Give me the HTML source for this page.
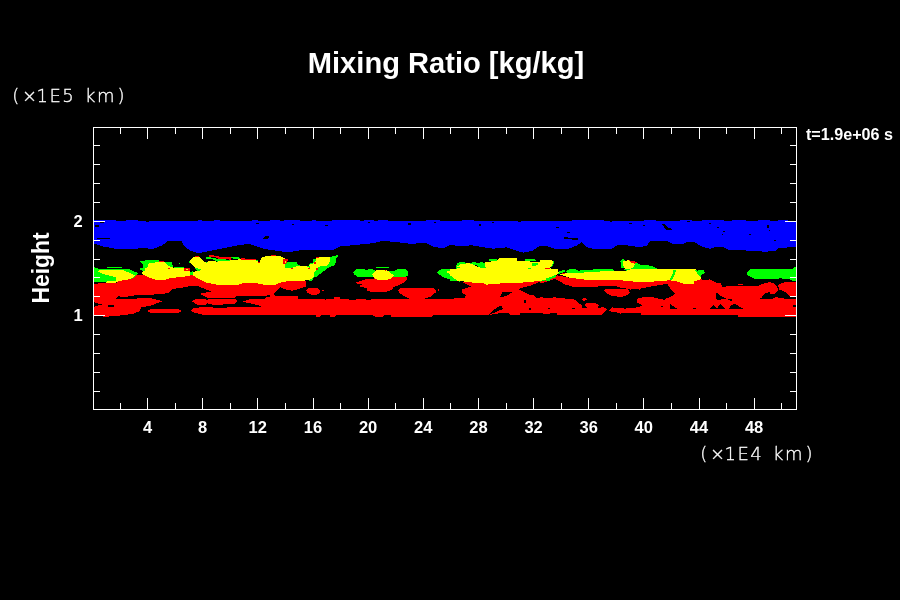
<!DOCTYPE html>
<html lang="en">
<head>
<meta charset="utf-8">
<title>Mixing Ratio [kg/kg]</title>
<style>
html,body{margin:0;padding:0;background:#000;width:900px;height:600px;overflow:hidden}
svg{display:block}
text{fill:#fff;font-family:"Liberation Sans",sans-serif;font-weight:bold}
.thin{font-family:"DejaVu Sans","Liberation Sans",sans-serif;font-weight:200}
</style>
</head>
<body>
<svg width="900" height="600" viewBox="0 0 900 600">
<rect x="0" y="0" width="900" height="600" fill="#000"/>
<g shape-rendering="crispEdges">
<polygon fill="#0000ff" points="94,243.7 103.3,246.5 115,248.7 131.7,249.5 140,248.2 153.3,248.7 161.7,245.7 168.3,240.7 181.7,241.5 184.2,245.7 190,250.7 198.3,253.2 210,251 223.3,248.2 240,244.8 250,244 256.7,246.5 265,249 281.7,251.5 290,252 303,249.8 323,249.5 333,249.8 340,246.5 356.7,244.8 373,243.2 381.7,241.2 390,241.5 398,242.3 410,243.7 426.7,243.2 433.3,246.5 443.3,248.5 450,244.8 461.7,246.5 471.7,245.2 483.3,247.3 493.3,248.7 506.7,247.3 516.7,250.7 523.3,252.7 531.7,251 540,246 548,246.5 556.7,249.3 566.7,249.3 576.7,245.7 581.7,242.3 586.7,247.3 593.3,248.7 611.7,248.7 618.3,244.8 630,245.7 640,247.3 646.7,245.7 650,241.5 666.7,240.7 673.3,244.3 681.7,244.3 688.3,241.5 695,242.3 701.7,246.5 710,248.7 715,247 723.3,247.3 730,250.3 760,250.7 763.3,251.8 775,251 778.3,248.2 793.3,247 796,247 796,221 788,221 788,220 778,220 778,221 774,221 774,221 770,221 770,220 758,220 758,221 746,221 746,220 742,220 742,220 732,220 732,221 728,221 728,221 724,221 724,220 714,220 714,220 702,220 702,221 696,221 696,221 692,221 692,220 680,220 680,221 676,221 676,221 672,221 672,221 666,221 666,221 656,221 656,220 644,220 644,221 632,221 632,221 620,221 620,221 616,221 616,221 604,221 604,220 596,220 596,220 584,220 584,220 572,220 572,221 560,221 560,221 550,221 550,221 540,221 540,221 530,221 530,221 520,221 520,221 512,221 512,221 506,221 506,221 502,221 502,221 494,221 494,221 484,221 484,221 474,221 474,220 462,220 462,221 458,221 458,221 448,221 448,221 440,221 440,220 430,220 430,220 426,220 426,221 414,221 414,221 406,221 406,221 398,221 398,221 388,221 388,220 378,220 378,221 374,221 374,220 364,220 364,221 360,221 360,220 348,220 348,220 340,220 340,220 332,220 332,221 322,221 322,221 316,221 316,220 312,220 312,221 308,221 308,221 300,221 300,220 294,220 294,220 284,220 284,221 280,221 280,220 270,220 270,221 258,221 258,220 252,220 252,221 240,221 240,221 230,221 230,221 220,221 220,220 214,220 214,221 208,221 208,221 202,221 202,220 198,220 198,221 186,221 186,221 178,221 178,221 174,221 174,221 164,221 164,221 156,221 156,221 144,221 144,221 138,221 138,220 126,220 126,221 116,221 116,220 106,220 106,220 96,220 96,220 94,220"/>
<polygon fill="#000000" points="97,237.7 110,237.7 110,238.7 97,238.7"/>
<polygon fill="#000000" points="263,238.7 266,236 270,235.7 268,238.7"/>
<polygon fill="#000000" points="564,237.3 577.5,238 577.5,239.8 564,239"/>
<polygon fill="#000000" points="661.7,224 664,224 668,228 671.7,228.6 671.7,229.8 666,229.5"/>
<polygon fill="#000000" points="95,225 99,225 99,227 95,227"/>
<polygon fill="#000000" points="100,222 104,222 104,223 100,223"/>
<polygon fill="#000000" points="256,223 259,223 259,224 256,224"/>
<polygon fill="#000000" points="292,224 294,224 294,225 292,225"/>
<polygon fill="#000000" points="325,225 328,225 328,226 325,226"/>
<polygon fill="#000000" points="368,222 370,222 370,223 368,223"/>
<polygon fill="#000000" points="408,223 411,223 411,225 408,225"/>
<polygon fill="#000000" points="434,222 436,222 436,223 434,223"/>
<polygon fill="#000000" points="479,224 481,224 481,226 479,226"/>
<polygon fill="#000000" points="492,222 494,222 494,223 492,223"/>
<polygon fill="#000000" points="556,227 559,227 559,228 556,228"/>
<polygon fill="#000000" points="567,232 570,232 570,233 567,233"/>
<polygon fill="#000000" points="629,223 632,223 632,224 629,224"/>
<polygon fill="#000000" points="643,225 645,225 645,226 643,226"/>
<polygon fill="#000000" points="709,223 711,223 711,224 709,224"/>
<polygon fill="#000000" points="717,227 719,227 719,228 717,228"/>
<polygon fill="#000000" points="723,231 725,231 725,232 723,232"/>
<polygon fill="#000000" points="722,234 723,234 723,235 722,235"/>
<polygon fill="#000000" points="749,234 751,234 751,235 749,235"/>
<polygon fill="#000000" points="767,225 769,225 769,228 767,228"/>
<polygon fill="#000000" points="769,230 770,230 770,231 769,231"/>
<polygon fill="#000000" points="774,240 776,240 776,241 774,241"/>
<polygon fill="#000000" points="687,221 690,221 690,222 687,222"/>
<polygon fill="#000000" points="610,221 612,221 612,222 610,222"/>
<polygon fill="#000000" points="518,221 521,221 521,222 518,222"/>
<polygon fill="#000000" points="146,221 149,221 149,222 146,222"/>
<polygon fill="#ff0000" points="93.85,282.92 116.25,282.92 118,281.17 128.51,279.42 133.17,278.25 136.67,275.1 144.84,274.87 150.68,278.25 156.51,279.77 164.68,279.77 171.68,277.9 183.35,276.74 190,275.92 190,285.84 185.68,287.01 179.85,288.17 172.85,288.76 169.35,292.26 164.68,293.77 153.01,294.59 136.67,295.17 125.01,296.92 118,296.34 115.67,298.67 146.01,298.44 148.34,297.86 155.34,299.26 162.93,301.24 156.51,303.34 150.68,305.68 141.34,307.43 139.01,311.51 133.17,313.84 114.5,316.18 105.17,316.76 93.85,315.59"/>
<polygon fill="#000000" points="93.85,282.57 98.17,282.57 98.17,283.74 93.85,283.74"/>
<polygon fill="#000000" points="93.85,302.18 101.67,304.51 93.85,306.84"/>
<polygon fill="#000000" points="108.09,305.09 113.92,305.09 113.92,306.61 108.09,306.61"/>
<polygon fill="#ff0000" points="147.18,310.93 150.68,309.18 178.68,309.18 181.02,310.93 178.68,312.68 150.68,312.91"/>
<polygon fill="#ff0000" points="180,275.92 190.5,274.75 192.84,274.75 197.5,278.25 205.67,282.57 217.34,284.67 238.34,284.67 243.01,283.27 254.68,282.92 264.01,284.67 275.68,284.67 280,282.57 280,287.01 274.52,293.42 273.35,295.41 266.93,295.41 266.93,296.34 236.01,296.11 234.26,298.09 223.17,298.09 223.17,297.74 206.84,297.51 199.25,293.77 210.92,291.44 203.34,288.17 197.5,286.07 187,286.07 180,287.59"/>
<polygon fill="#ff0000" points="192.25,301.59 195.17,298.91 203.34,298.67 207.42,300.07 209.17,298.91 236.01,298.91 237.76,301.01 234.84,303.93 224.34,303.93 223.17,304.74 212.67,304.74 210.34,303.93 207.42,303.34 205.67,304.74 197.5,304.74"/>
<polygon fill="#ff0000" points="242.43,301.59 250.01,299.26 265.18,298.67 266.93,296.92 280,296.92 280,315.01 203.34,314.78 194,312.68 191.09,310.93 194,307.78 210.34,306.84 213.84,307.78 260.51,306.84 260.51,305.91 250.01,303.34"/>
<polygon fill="#ff0000" points="180,309.76 181.17,309.76 181.17,312.09 180,312.09"/>
<polygon fill="#ff0000" points="270,284.91 277,283.51 287.5,281.17 305.01,280.35 305.59,280.59 305.59,286.77 299.17,288.76 292.17,290.74 285.17,289.34 279.33,287.01 275.83,289.92 273.5,294.01 275.83,296.11 270,296.11"/>
<polygon fill="#ff0000" points="270,296.11 298,296.11 298,298.67 324.26,298.67 325.43,300.42 327.18,298.67 334.18,298.67 334.18,297.27 340.01,297.27 340.01,298.67 349.35,298.67 349.35,300.42 370,300.42 370,315.01 336.51,315.01 335.34,316.76 330.68,316.76 329.51,315.01 321.34,315.01 320.18,316.76 316.67,316.76 315.51,315.01 270,315.01"/>
<polygon fill="#ff0000" points="356.35,299.02 365.68,299.02 365.68,299.84 356.35,299.84"/>
<polygon fill="#ff0000" points="306.17,290.51 308.51,288.17 317.84,287.94 320.18,290.51 319.59,293.42 316.67,294.94 310.84,294.59 307.34,292.84"/>
<polygon fill="#ff0000" points="321.93,289.92 323.91,289.92 323.91,290.86 321.93,290.86"/>
<polygon fill="#ff0000" points="356.35,282.57 359.85,281.17 366.85,279.07 370,279.07 370,291.09 366.85,291.09 366.85,288.17 359.85,286.42 362.18,284.67 357.51,283.51"/>
<polygon fill="#ff0000" points="360,281.17 363.5,281.17 364.67,279.42 372.84,278.6 393.84,276.74 406.67,276.74 407.26,278.84 404.34,282.34 398.51,285.26 393.84,287.01 391.51,289.92 386.84,291.67 370.5,291.67 367,289.92 367,287.59 360,287.01 360,284.67 363.5,284.67 363.5,282.57 360,282.57"/>
<polygon fill="#ff0000" points="397.92,290.51 400.84,288.17 410.18,288.41 413.09,287.94 433.51,288.17 436.43,291.09 435.85,292.26 431.18,296.34 424.18,298.67 409.01,298.67 403.17,295.76 399.67,292.84"/>
<polygon fill="#ff0000" points="437.95,288.76 439.11,288.76 439.11,291.09 437.95,291.09"/>
<polygon fill="#ff0000" points="360,299.02 365.83,299.02 365.83,299.84 370.5,300.42 370.5,299.26 456.85,299.26 456.85,298.09 460,298.09 460,315.01 433.51,315.01 432.35,316.76 391.51,316.76 390.34,315.01 384.5,315.01 383.34,316.76 375.17,316.76 372.84,315.01 360,315.01"/>
<polygon fill="#ff0000" points="450,299.26 455.83,298.09 465.17,298.09 465.75,295.17 462.25,292.84 462.25,289.34 471.59,286.42 461.67,282.11 469.84,282.11 485.01,282.92 504.84,282.57 522.35,282.34 531.68,281.4 542.18,280.82 531.68,285.26 522.35,287.59 517.68,289.11 524.68,292.26 530.51,295.41 534.01,295.17 536.35,297.74 550,297.74 550,313.84 543.35,313.84 543.35,313.26 520.01,313.26 520.01,315.01 510.68,315.01 508.34,313.26 499.01,313.26 488.51,315.01 450,315.01"/>
<polygon fill="#000000" points="501.93,291.09 503.09,292.26 511.84,292.26 508.34,295.17 504.84,296.34 499.01,297.51 501.34,294.59"/>
<polygon fill="#000000" points="501.93,305.91 503.09,309.18 499.01,310.34 494.34,312.68 490.26,314.43 489.09,315.24 487.92,315.24 493.17,310.34 496.67,308.01 500.18,305.91"/>
<polygon fill="#000000" points="524.1,299.26 525.85,300.42 525.85,303.34 524.1,302.76"/>
<polygon fill="#000000" points="529.35,308.01 531.1,308.01 531.1,310.34 529.35,310.34"/>
<polygon fill="#ff0000" points="540,281.17 542.33,281.17 547,279.42 554.59,277.09 557.5,275.34 570.34,277.9 586.67,279.77 612.35,279.77 621.68,280.35 633.35,281.52 640,282.57 640,289.57 621.68,288.17 614.68,285.84 600.68,285.84 596.01,287.01 575.01,287.24 565.67,284.67 554.59,278.84 542.33,282.92 540,282.92"/>
<polygon fill="#ff0000" points="604.18,290.51 605.93,289.11 627.51,289.34 630.08,292.26 626.93,295.17 621.68,296.92 612.35,296.11 607.09,293.42"/>
<polygon fill="#ff0000" points="636.85,298.67 640,298.09 640,303.93 637.43,302.76 636.62,300.42"/>
<polygon fill="#ff0000" points="540,297.27 551.67,298.09 554,297.27 558.67,297.74 566.84,298.67 570.34,298.67 575.01,299.84 578.51,302.76 582.01,305.68 582.01,307.78 587.84,308.01 584.11,305.09 586.67,303.11 596.01,303.11 598.93,305.68 597.18,308.59 603.01,307.08 607.09,309.18 604.18,312.68 601.84,315.01 557.5,315.01 556.34,312.91 540,312.91"/>
<polygon fill="#000000" points="572.09,308.01 575.01,308.01 575.01,309.18 572.09,309.18"/>
<polygon fill="#000000" points="548.17,308.01 549.92,308.01 549.92,309.18 548.17,309.18"/>
<polygon fill="#ff0000" points="582.01,299.26 583.76,298.09 586.09,298.44 586.91,299.61 584.92,300.77 582.59,300.42"/>
<polygon fill="#ff0000" points="608.26,311.51 612.35,307.43 625.18,308.59 633.35,308.01 640,306.84 640,313.26 621.68,313.26 620.51,313.84 619.35,312.68 612.35,312.09 610.01,310.93"/>
<polygon fill="#ff0000" points="630,281.17 637,282.11 653.34,281.52 669.67,280.35 676.67,281.52 686.01,284.44 693.59,284.44 694.18,281.17 700.01,280 701.18,278.25 702.93,280.59 709.35,279.42 716.35,282.92 721.02,283.27 722.18,287.01 730,285.84 730,315.01 641.67,315.01 640.5,312.68 630,312.68 630,308.59 634.67,307.78 642.84,305.91 638.17,302.18 637,299.26 642.84,297.27 653.34,297.27 658,298.44 665.01,299.84 666.17,298.67 673.17,295.41 674.92,293.42 669.09,287.01 667.34,283.74 653.34,286.07 641.67,288.41 630,289.57"/>
<polygon fill="#000000" points="669.67,308.59 670.26,303.93 676.67,308.59"/>
<polygon fill="#000000" points="716.93,292.84 718.68,295.17 723.35,296.34 726.85,298.67 722.18,299.26 719.85,300.42 716.93,298.09"/>
<polygon fill="#000000" points="710.51,308.59 713.43,305.68 716.35,308.59"/>
<polygon fill="#000000" points="718.68,308.59 720.43,303.93 726.85,308.59"/>
<polygon fill="#000000" points="660.92,305.68 663.26,305.68 663.26,306.84 660.92,306.84"/>
<polygon fill="#000000" points="693.01,307.78 695.93,307.78 695.93,308.94 693.01,308.94"/>
<polygon fill="#ff0000" points="710,280 715.83,283.51 720.5,283.27 721.67,287.01 726.34,286.42 759.01,285.84 761.34,284.09 769.51,282.11 774.18,283.51 777.44,286.42 778.84,284.09 784.68,282.11 796.11,281.75 796.11,316.76 738,316.76 738,315.01 710,315.01"/>
<polygon fill="#ff0000" points="738,284.09 742.67,284.09 742.67,284.79 738,284.79"/>
<polygon fill="#000000" points="754.34,298.44 761.34,297.74 764.84,293.42 769.51,292.26 770.68,294.01 775.34,293.42 777.68,290.51 777.44,286.42 778.84,287.01 779.08,289.34 784.68,291.67 789.35,295.76 796.11,296.92 796.11,298.67 778.84,298.44 777.68,296.92 775.93,296.92 773.01,298.67"/>
<polygon fill="#000000" points="716.42,292.84 718.17,293.42 720.5,295.76 725.75,298.09 725.75,299.26 721.67,298.91 719.33,300.42 716.42,299.26"/>
<polygon fill="#000000" points="727.5,298.67 731.59,299.26 731.59,300.77 727.5,300.07"/>
<polygon fill="#000000" points="710,308.59 713.5,304.51 717,308.59"/>
<polygon fill="#000000" points="717,308.59 719.92,303.93 725.17,308.59"/>
<polygon fill="#000000" points="728.67,308.59 731.59,305.09 735.09,303.93 742.67,308.59"/>
<polygon fill="#000000" points="793.43,305.09 796.11,305.09 796.11,306.84 793.43,306.84"/>
<polygon fill="#00ff00" points="93.85,267.17 97,268.34 101.67,268.92 129.67,269.5 137.84,273 136.67,275.1 133.17,278.25 128.51,279.42 118,281.17 116.25,282.57 106.34,282.57 106.34,281.75 93.85,281.75"/>
<polygon fill="#00ff00" points="106.92,266.94 122.09,266.94 122.09,267.87 106.92,267.87"/>
<polygon fill="#00ff00" points="140.18,261.57 146.01,260.17 158.84,260.4 164.68,262.27 171.68,262.27 173.08,266.59 170.51,267.17 148.34,267.17 148.34,274.75 142.51,274.17 143.09,270.67 139.59,270.09 139.59,268.57 142.51,267.75 142.51,264.25"/>
<polygon fill="#00ff00" points="174.01,266.94 183.35,266.94 183.35,268.34 174.01,268.34"/>
<polygon fill="#00ff00" points="178.68,262.85 180.08,262.85 180.08,264.02 178.68,264.02"/>
<polygon fill="#00ff00" points="188.95,261.1 190,261.1 190,262.74 188.95,262.74"/>
<polygon fill="#00ff00" points="180,266.94 183.5,266.94 184.08,268.34 180,268.92"/>
<polygon fill="#00ff00" points="189.92,271.84 193.42,271.25 193.07,275.1 189.92,274.75"/>
<polygon fill="#00ff00" points="188.75,261.92 192.84,257.25 194,257.25 190.5,263.09"/>
<polygon fill="#00ff00" points="195.17,267.75 201,269.5 198.67,271.25 195.75,270.09"/>
<polygon fill="#00ff00" points="206.25,257.25 210.34,257.25 218.51,259.23 230.18,259.7 230.76,261.57 217.34,261.92 213.84,259.58 206.25,259"/>
<polygon fill="#00ff00" points="231.34,256.9 236.01,256.67 239.51,257.83 239.51,258.77 231.34,258.42"/>
<polygon fill="#00ff00" points="205.09,261.92 207.42,261.92 207.42,264.25 205.09,263.67"/>
<polygon fill="#00ff00" points="243.01,260.75 245.34,260.75 245.34,261.92 243.01,261.92"/>
<polygon fill="#00ff00" points="254.68,259.93 257.6,259.93 257.6,261.1 254.68,261.1"/>
<polygon fill="#00ff00" points="284,264.84 287.5,262.27 296.84,262.27 298,265.42 308.51,266 308.51,263.67 312.59,263.09 312.59,259 316.67,258.42 316.67,261.33 314.34,263.67 314.34,267.17 308.51,269.5 284,269.5"/>
<polygon fill="#00ff00" points="330.09,257.25 337.68,254.92 338.26,256.67 335.93,259 335.34,264.84 328.34,267.75 321.34,273 316.67,276.5 313.76,277.44 312.01,280.94 306.17,280 306.17,278.6 313.17,273 319.01,266 330.09,261.33"/>
<polygon fill="#00ff00" points="353.08,272.07 356.35,269.27 363.35,268.92 366.85,270.09 370,268.92 370,276.74 366.85,275.92 363.35,276.74 357.51,276.5 354.6,274.75"/>
<polygon fill="#00ff00" points="360,269.27 364.67,269.27 367,270.67 369.92,269.27 372.84,269.27 375.17,270.9 377.5,269.5 393.84,271.25 397.34,269.5 406.09,269.27 407.84,271.25 407.84,275.34 406.09,276.74 360,276.74"/>
<polygon fill="#00ff00" points="376.1,266.94 388.94,266.94 388.94,267.75 376.1,267.75"/>
<polygon fill="#00ff00" points="437.01,272.42 440.51,269.5 455.68,268.92 456.27,264.84 460,261.92 460,281.75 451.02,280 441.68,276.5"/>
<polygon fill="#00ff00" points="450,274.75 457,280.59 450,280.59"/>
<polygon fill="#00ff00" points="455.83,268.92 457,263.67 461.67,261.92 466.34,262.74 465.75,268.92"/>
<polygon fill="#00ff00" points="469.84,263.09 474.5,261.92 478,263.67 480.34,262.27 485.01,262.74 485.59,267.75 479.17,267.75 476.84,264.84 469.84,264.25"/>
<polygon fill="#00ff00" points="489.09,259.23 496.67,259.23 497.26,261.33 489.09,261.1"/>
<polygon fill="#00ff00" points="524.68,259 529.35,259 536.35,259.58 536.35,261.33 524.68,261.1"/>
<polygon fill="#00ff00" points="531.68,263.09 537.51,263.09 537.51,265.42 531.68,265.77"/>
<polygon fill="#00ff00" points="528.18,267.75 531.1,267.75 531.1,268.92 528.18,268.92"/>
<polygon fill="#00ff00" points="545.68,278.25 550,276.5 550,280.59 545.68,280.59"/>
<polygon fill="#00ff00" points="540,259.58 551.67,259.93 554.24,261.92 552.25,266.59 548.75,268.34 540,268.34"/>
<polygon fill="#00ff00" points="540,278.25 547,276.74 555.17,274.75 555.75,277.09 547,280 540,281.75"/>
<polygon fill="#00ff00" points="558.67,271.25 565.09,269.74 565.09,271.84 559.84,273.59 557.5,274.75"/>
<polygon fill="#00ff00" points="566.25,270.67 570.34,268.92 575.01,269.27 578.51,270.67 596.01,269.27 613.51,269.5 614.68,271.25 604.18,271.84 586.67,273 566.84,273.59"/>
<polygon fill="#00ff00" points="619.93,261.33 622.85,259 624.6,260.17 624.6,268.34 620.51,267.75 621.1,263.67"/>
<polygon fill="#00ff00" points="633.35,263.67 638.02,263.09 640,264.84 640,268.92 633.35,268.92 626.35,270.67 624.01,269.5 629.85,268.34"/>
<polygon fill="#00ff00" points="630,268.34 633.5,266 637,265.07 647.5,265.07 653.34,266.59 656.84,268.34 656.84,269.5 630,269.5"/>
<polygon fill="#00ff00" points="634.67,263.09 637.58,263.09 637.58,264.84 634.67,265.07"/>
<polygon fill="#00ff00" points="693.59,269.5 697.68,270.67 700.01,270.09 704.1,270.09 704.91,273 701.18,274.75 701.41,277.44 695.34,281.17 693.01,280.59"/>
<polygon fill="#00ff00" points="747.11,272.77 748.51,270.67 750.84,269.27 791.68,269.27 794.01,267.17 796.11,266.94 796.11,280.94 792.85,280.94 789.35,279.42 780.01,278.25 777.68,278.84 754.34,278.6 749.67,276.5 747.57,274.75"/>
<polygon fill="#ffff00" points="97,271.25 100.5,269.5 121.51,269.74 128.51,272.42 134.92,275.34 133.17,277.9 128.51,279.42 118,281.17 116.25,282.57 106.34,282.57 107.5,281.17 115.67,280.94 115.67,277.09 105.17,274.75"/>
<polygon fill="#ffff00" points="151.03,278.6 145.78,275.8 142.04,274.17 142.74,271.6 144.84,270.67 144.84,268.34 147.18,267.75 148.34,263.67 158.84,261.92 164.68,262.5 170.51,267.17 183.35,268.92 190,268.57 190,275.92 183.35,276.74 171.68,277.9 164.68,279.77 156.51,279.77 150.68,278.25"/>
<polygon fill="#ffff00" points="180,268.34 183.5,268.34 183.5,271.25 189.92,271.25 190.27,275.34 180,277.09"/>
<polygon fill="#ffff00" points="189.33,261.92 192.84,257.25 199.84,256.9 203.34,260.75 206.25,263.09 208,261.1 217.34,261.57 231.34,260.4 240.68,259.23 255.85,260.17 259.35,262.27 261.68,257.25 266.35,256.08 280,256.08 280,282.57 275.68,284.67 264.01,284.67 254.68,282.92 243.01,283.27 238.34,284.67 217.34,284.67 205.67,282.57 197.5,278.25 192.84,275.1 193.07,272.07 197.5,270.9 195.17,268.34 194,266 191.67,264.25"/>
<polygon fill="#ffff00" points="270,256.08 280.5,256.43 285.17,258.42 286.34,262.5 284.59,264.84 284.59,268.34 291,268.34 298,266 308.51,266.59 310.26,268.34 313.76,273 313.76,277.09 309.67,280 305.59,280 305.01,280.59 287.5,281.17 277,283.51 270,284.91"/>
<polygon fill="#ffff00" points="310.26,268.34 309.09,264.84 313.17,263.67 314.92,261.92 316.67,257.83 320.18,256.67 329.51,257.25 330.09,261.33 327.18,266 319.01,266.59 316.67,269.5 313.76,273"/>
<polygon fill="#ffff00" points="372.25,274.75 374,271.84 377.5,269.74 384.5,269.5 389.17,271.84 393.84,275.34 390.92,278.6 386.84,280 377.5,280 374,278.25"/>
<polygon fill="#ffff00" points="446.35,271.84 452.18,269.5 460,268.92 460,280 458.02,280.59 453.35,277.09"/>
<polygon fill="#ffff00" points="450,268.92 456.42,268.92 461.67,266.59 465.17,263.67 469.84,263.09 479.17,267.75 486.17,261.92 496.67,261.1 499.01,258.07 516.51,258.07 517.09,261.1 531.68,261.57 538.68,262.5 542.18,260.17 550,260.17 550,278.25 542.18,280.59 531.68,281.75 522.35,282.57 504.84,282.92 494.34,284.09 486.17,284.67 483.84,283.51 469.84,282.34 457,280.59 450,275.34"/>
<polygon fill="#ffff00" points="457,266.59 461.67,263.67 465.17,263.67 461.67,267.17"/>
<polygon fill="#ffff00" points="540,260.17 551.67,260.4 553.42,261.92 551.67,266 548.17,268.1 557.5,269.27 558.67,272.42 555.17,275.92 547,278.84 540,280.59"/>
<polygon fill="#ffff00" points="559.25,274.4 566.84,273 586.67,272.42 604.18,271.25 621.68,270.67 640,270.09 640,282.57 633.35,281.52 621.68,280.35 612.35,279.77 586.67,279.77 570.34,277.9"/>
<polygon fill="#ffff00" points="622.85,260.75 628.68,260.4 634.52,263.67 633.35,267.17 628.68,269.5 624.01,268.34 623.08,264.84"/>
<polygon fill="#ffff00" points="630,268.92 695.34,269.15 697.68,272.42 701.18,277.09 700.01,280 694.18,281.17 693.59,284.44 686.01,284.44 676.67,281.52 669.67,280.35 653.34,281.52 637,282.11 630,281.17"/>
<polygon fill="#ffff00" points="630,261.57 635.25,263.09 634.08,266 630,268.34"/>
<polygon fill="#ff0000" points="158.84,261.1 164.1,261.1 164.1,262.27 158.84,262.27"/>
<polygon fill="#ff0000" points="167.95,267.75 169.93,267.75 169.93,268.92 167.95,268.92"/>
<polygon fill="#ff0000" points="183.35,268.92 186.85,268.34 190,268.34 190,271.25 185.68,271.25"/>
<polygon fill="#ff0000" points="183.5,268.34 188.17,268.1 189.92,269.5 189.33,271.25 184.67,271.25"/>
<polygon fill="#ffff00" points="186.42,268.92 188.17,268.92 188.17,270.09 186.42,270.09"/>
<polygon fill="#ff0000" points="209.17,255.27 218.51,255.73 218.51,257.25 231.34,257.25 231.34,259.58 219.09,259.23 215.01,257.25 209.17,256.9"/>
<polygon fill="#ff0000" points="240.68,258.42 255.85,258.77 255.85,259.93 240.68,259.7"/>
<polygon fill="#ff0000" points="195.17,256.08 198.67,256.08 198.67,257.02 195.17,257.02"/>
<polygon fill="#ff0000" points="258.18,261.92 259.93,261.92 259.93,263.09 258.18,263.09"/>
<polygon fill="#ff0000" points="271.02,255.27 275.68,255.27 275.68,256.08 271.02,256.08"/>
<polygon fill="#ff0000" points="283.42,259.23 287.5,259 287.5,261.33 285.17,264.25 283.42,263.67"/>
<polygon fill="#ffff00" points="284.59,260.75 286.34,260.75 286.34,263.09 284.59,263.09"/>
<polygon fill="#ff0000" points="314.34,262.5 316.09,261.92 316.09,263.67 314.34,264.25"/>
<polygon fill="#ff0000" points="316.09,268.34 318.42,268.34 318.42,269.5 316.09,269.5"/>
<polygon fill="#ff0000" points="316.09,257.25 320.18,256.43 320.18,257.25 316.09,258.07"/>
<polygon fill="#ff0000" points="291,267.75 292.75,267.75 292.75,268.92 291,268.92"/>
<polygon fill="#ff0000" points="307.92,267.75 309.67,267.75 309.67,268.92 307.92,268.92"/>
<polygon fill="#ff0000" points="383.92,269.5 386.25,269.74 386.25,270.67 383.92,270.44"/>
<polygon fill="#ff0000" points="545.1,267.75 550,267.52 550,268.57 545.1,268.57"/>
<polygon fill="#ff0000" points="545.25,268.1 548.75,267.87 548.75,268.92 545.25,268.92"/>
<polygon fill="#ff0000" points="628.68,260.17 633.35,261.1 638.02,263.09 634.52,263.67 631.02,261.92"/>
<polygon fill="#ff0000" points="562.17,273 565.09,273 565.09,273.94 562.17,273.94"/>
<polygon fill="#00ff00" points="545.83,278.6 555.17,275.34 555.75,277.09 547,280.24"/>
<polygon fill="#00ff00" points="554,274.75 555.75,274.75 555.75,276.27 554,276.27"/>
<polygon fill="#00ff00" points="673.41,269.5 676.09,269.5 674.92,273 672.01,280 669.91,280.24 672.59,273.59"/>
<polygon fill="#ff0000" points="630,261.1 634.67,261.33 635.83,262.74 634.67,263.2 630,262.27"/>
<polygon fill="#00ff00" points="531.68,263.09 537.51,263.09 537.51,265.42 531.68,265.77"/>
<polygon fill="#00ff00" points="528.18,267.75 531.1,267.75 531.1,268.92 528.18,268.92"/>
<polygon fill="#00ff00" points="476.84,263.67 480.57,262.27 485.01,262.74 485.59,267.75 479.75,267.75"/>
<polygon fill="#00ff00" points="469.84,263.09 475.09,262.04 478,264.25 476.25,265.07 473.34,263.67 469.84,264.25"/>
<polygon fill="#00ff00" points="693.94,269.5 697.68,270.67 700.01,270.09 704.1,270.09 704.91,273 701.18,274.75 701.41,277.44 698.84,275.34 696.51,272.42"/>
<polygon fill="#00ff00" points="673.17,269.5 676.44,269.5 674.92,273.59 672.24,280 669.67,280.24 672.59,273.59"/>
<polygon fill="#00ff00" points="195.17,267.75 201,269.5 198.67,271.25 195.75,270.09"/>
<polygon fill="#00ff00" points="189.92,271.84 193.42,271.25 193.07,275.1 189.92,274.75"/>
</g>
<g shape-rendering="crispEdges" fill="#fff">
<rect x="93" y="127" width="704" height="1"/>
<rect x="93" y="409" width="704" height="1"/>
<rect x="93" y="127" width="1" height="283"/>
<rect x="796" y="127" width="1" height="283"/>
<rect x="120" y="127" width="1" height="7"/>
<rect x="120" y="403" width="1" height="7"/>
<rect x="147" y="127" width="1" height="12"/>
<rect x="147" y="398" width="1" height="12"/>
<rect x="175" y="127" width="1" height="7"/>
<rect x="175" y="403" width="1" height="7"/>
<rect x="202" y="127" width="1" height="12"/>
<rect x="202" y="398" width="1" height="12"/>
<rect x="230" y="127" width="1" height="7"/>
<rect x="230" y="403" width="1" height="7"/>
<rect x="257" y="127" width="1" height="12"/>
<rect x="257" y="398" width="1" height="12"/>
<rect x="285" y="127" width="1" height="7"/>
<rect x="285" y="403" width="1" height="7"/>
<rect x="313" y="127" width="1" height="12"/>
<rect x="313" y="398" width="1" height="12"/>
<rect x="340" y="127" width="1" height="7"/>
<rect x="340" y="403" width="1" height="7"/>
<rect x="368" y="127" width="1" height="12"/>
<rect x="368" y="398" width="1" height="12"/>
<rect x="395" y="127" width="1" height="7"/>
<rect x="395" y="403" width="1" height="7"/>
<rect x="423" y="127" width="1" height="12"/>
<rect x="423" y="398" width="1" height="12"/>
<rect x="450" y="127" width="1" height="7"/>
<rect x="450" y="403" width="1" height="7"/>
<rect x="478" y="127" width="1" height="12"/>
<rect x="478" y="398" width="1" height="12"/>
<rect x="506" y="127" width="1" height="7"/>
<rect x="506" y="403" width="1" height="7"/>
<rect x="533" y="127" width="1" height="12"/>
<rect x="533" y="398" width="1" height="12"/>
<rect x="561" y="127" width="1" height="7"/>
<rect x="561" y="403" width="1" height="7"/>
<rect x="588" y="127" width="1" height="12"/>
<rect x="588" y="398" width="1" height="12"/>
<rect x="616" y="127" width="1" height="7"/>
<rect x="616" y="403" width="1" height="7"/>
<rect x="643" y="127" width="1" height="12"/>
<rect x="643" y="398" width="1" height="12"/>
<rect x="671" y="127" width="1" height="7"/>
<rect x="671" y="403" width="1" height="7"/>
<rect x="699" y="127" width="1" height="12"/>
<rect x="699" y="398" width="1" height="12"/>
<rect x="726" y="127" width="1" height="7"/>
<rect x="726" y="403" width="1" height="7"/>
<rect x="754" y="127" width="1" height="12"/>
<rect x="754" y="398" width="1" height="12"/>
<rect x="781" y="127" width="1" height="7"/>
<rect x="781" y="403" width="1" height="7"/>
<rect x="93" y="391" width="7" height="1"/>
<rect x="790" y="391" width="7" height="1"/>
<rect x="93" y="372" width="7" height="1"/>
<rect x="790" y="372" width="7" height="1"/>
<rect x="93" y="353" width="7" height="1"/>
<rect x="790" y="353" width="7" height="1"/>
<rect x="93" y="334" width="7" height="1"/>
<rect x="790" y="334" width="7" height="1"/>
<rect x="93" y="315" width="12" height="1"/>
<rect x="785" y="315" width="12" height="1"/>
<rect x="93" y="296" width="7" height="1"/>
<rect x="790" y="296" width="7" height="1"/>
<rect x="93" y="277" width="7" height="1"/>
<rect x="790" y="277" width="7" height="1"/>
<rect x="93" y="259" width="7" height="1"/>
<rect x="790" y="259" width="7" height="1"/>
<rect x="93" y="240" width="7" height="1"/>
<rect x="790" y="240" width="7" height="1"/>
<rect x="93" y="221" width="12" height="1"/>
<rect x="785" y="221" width="12" height="1"/>
<rect x="93" y="202" width="7" height="1"/>
<rect x="790" y="202" width="7" height="1"/>
<rect x="93" y="183" width="7" height="1"/>
<rect x="790" y="183" width="7" height="1"/>
<rect x="93" y="164" width="7" height="1"/>
<rect x="790" y="164" width="7" height="1"/>
<rect x="93" y="145" width="7" height="1"/>
<rect x="790" y="145" width="7" height="1"/>
</g>
<text x="446" y="72.5" text-anchor="middle" font-size="29.1">Mixing Ratio [kg/kg]</text>
<text transform="translate(49.3,268) rotate(-90)" text-anchor="middle" font-size="24" textLength="71" lengthAdjust="spacingAndGlyphs">Height</text>
<text x="147.5" y="433" text-anchor="middle" font-size="16.5">4</text>
<text x="202.7" y="433" text-anchor="middle" font-size="16.5">8</text>
<text x="257.8" y="433" text-anchor="middle" font-size="16.5">12</text>
<text x="313.0" y="433" text-anchor="middle" font-size="16.5">16</text>
<text x="368.1" y="433" text-anchor="middle" font-size="16.5">20</text>
<text x="423.3" y="433" text-anchor="middle" font-size="16.5">24</text>
<text x="478.4" y="433" text-anchor="middle" font-size="16.5">28</text>
<text x="533.6" y="433" text-anchor="middle" font-size="16.5">32</text>
<text x="588.7" y="433" text-anchor="middle" font-size="16.5">36</text>
<text x="643.8" y="433" text-anchor="middle" font-size="16.5">40</text>
<text x="699.0" y="433" text-anchor="middle" font-size="16.5">44</text>
<text x="754.1" y="433" text-anchor="middle" font-size="16.5">48</text>
<text x="82.6" y="227" text-anchor="end" font-size="16.5">2</text>
<text x="82.6" y="321" text-anchor="end" font-size="16.5">1</text>
<text x="806" y="140" font-size="16" textLength="87" lengthAdjust="spacingAndGlyphs">t=1.9e+06 s</text>
<text class="thin" stroke="#fff" stroke-width="0.3" x="12.3 22 36.5 49.5 62.3 74 85 97 117.5" y="101.7" font-size="18">(×1E5 km)</text>
<text class="thin" stroke="#fff" stroke-width="0.3" x="700.3 710 724.5 737.5 750.3 762 773 785 805.5" y="460" font-size="18">(×1E4 km)</text>
</svg>
</body>
</html>
